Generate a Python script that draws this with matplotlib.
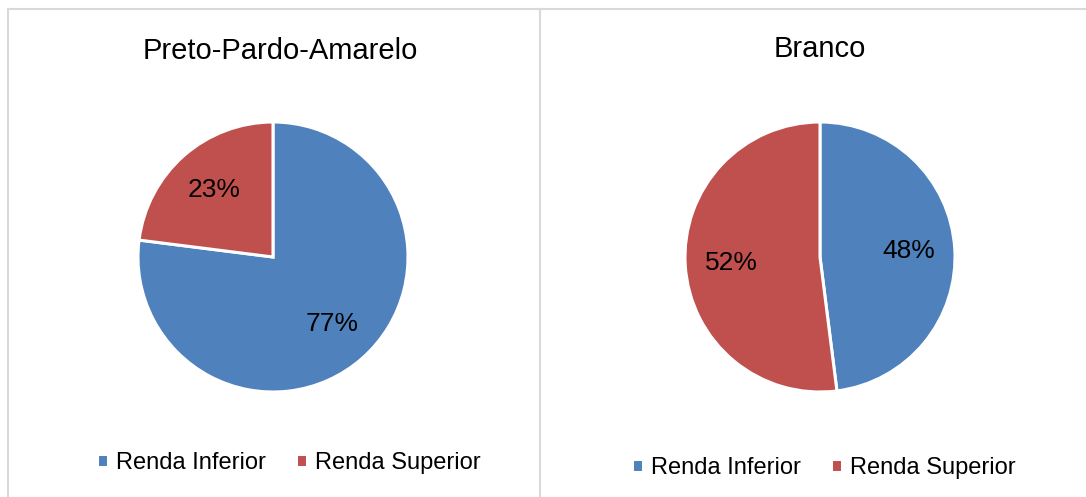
import matplotlib
matplotlib.use("Agg")
import matplotlib.pyplot as plt
from matplotlib.lines import Line2D

plt.rcParams['font.family'] = ['Liberation Sans', 'DejaVu Sans']

categories = ["Renda Inferior", "Renda Superior"]
titles = ["Preto-Pardo-Amarelo", "Branco"]
values_ppa = [77, 23]
values_branco = [48, 52]
colors = ["#4F81BD", "#C0504D"]

W, H = 1086, 497
fig = plt.figure(figsize=(W / 100, H / 100), dpi=100)
fig.patch.set_facecolor("white")

def px_axes(cx, cy, r):
    return fig.add_axes([(cx - r) / W, (H - cy - r) / H, 2 * r / W, 2 * r / H])

# frame lines
border = "#D9D9D9"
fig.add_artist(Line2D([8 / W, 8 / W], [0, 1 - 9 / H], color=border, lw=1.5))
fig.add_artist(Line2D([8 / W, 1], [1 - 9 / H, 1 - 9 / H], color=border, lw=1.5))
fig.add_artist(Line2D([540 / W, 540 / W], [0, 1 - 9 / H], color=border, lw=1.5))

panels = [
    (values_ppa, titles[0], 273, 257, (280, 51), (289, 463)),
    (values_branco, titles[1], 820, 257, (820, 49), (824, 468)),
]

for vals, title, cx, cy, tpos, lpos in panels:
    ax = px_axes(cx, cy, 135)
    wedges, texts, autotexts = ax.pie(
        vals, colors=colors, startangle=90, counterclock=False,
        autopct=lambda p: f"{p:.0f}%", pctdistance=0.66, radius=1.0,
        wedgeprops=dict(edgecolor="white", linewidth=2.2),
        textprops=dict(fontsize=19, color="black"))
    ax.set_xlim(-1, 1)
    ax.set_ylim(-1, 1)
    ax.set_aspect("equal")
    ax.axis("off")
    fig.text(tpos[0] / W, 1 - tpos[1] / H, title, ha="center", va="center",
             fontsize=21, color="black")
    fig.legend(wedges, categories, loc="center",
               bbox_to_anchor=(lpos[0] / W, 1 - lpos[1] / H),
               ncol=2, frameon=False, fontsize=17,
               handlelength=0.45, handleheight=0.45, handletextpad=0.35,
               columnspacing=1.3)

fig.savefig("out.png", dpi=100, facecolor="white")
